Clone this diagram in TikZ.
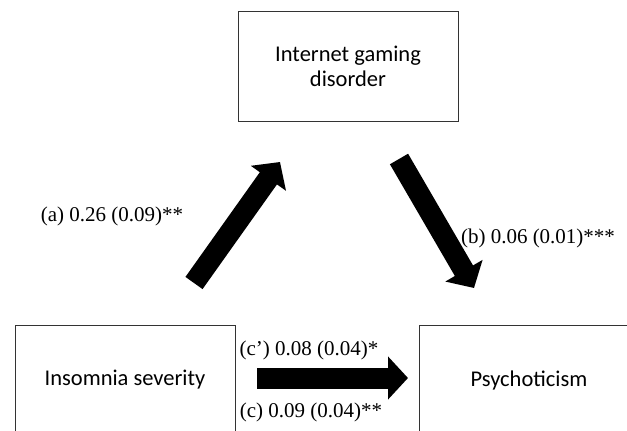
\documentclass[tikz,border=0pt]{standalone}
\usepackage{fontspec}
\setmainfont{Liberation Serif}
\newfontfamily\boxfont{Carlito}
\usetikzlibrary{arrows.meta}
\tikzstyle{construct}=[draw=black!80, line width=0.9pt, minimum width=220pt, minimum height=110pt, inner sep=0pt, align=center, font=\boxfont\fontsize{22.5}{25}\selectfont]
\tikzstyle{coef}=[inner sep=0pt, font=\fontsize{21}{24}\selectfont]
\tikzstyle{fat}=[line width=21pt, -{Triangle[length=20pt,width=42pt]}]
\newcommand{\construct}{\node[construct]}
\newcommand{\coef}{\node[coef]}

\begin{document}
\begin{tikzpicture}[x=1pt,y=-1pt]
	\useasboundingbox (0,0) rectangle (627,431);
	\clip (0,0) rectangle (627,431);
	\construct (igd) at (348,66) {Internet gaming\\disorder};
	\construct (ins) at (125,380) {Insomnia severity};
	\construct (psy) at (529,380) {Psychoticism};

	\coordinate (a0) at (194,283);
	\coordinate (a1) at (280,162);
	\coordinate (b0) at (399,159);
	\coordinate (b1) at (474,288);
	\coordinate (c0) at (257,378);
	\coordinate (c1) at (408,378);

	\draw[fat] (a0) -- (a1);
	\draw[fat] (b0) -- (b1);
	\draw[fat] (c0) -- (c1);

	\coef (la) at (112,216) {(a) 0.26 (0.09)**};
	\coef (lb) at (538,238) {(b) 0.06 (0.01)***};
	\coef (lcp) at (309,350) {(c') 0.08 (0.04)*};
	\coef (lc) at (311,412) {(c) 0.09 (0.04)**};
\end{tikzpicture}
\end{document}
